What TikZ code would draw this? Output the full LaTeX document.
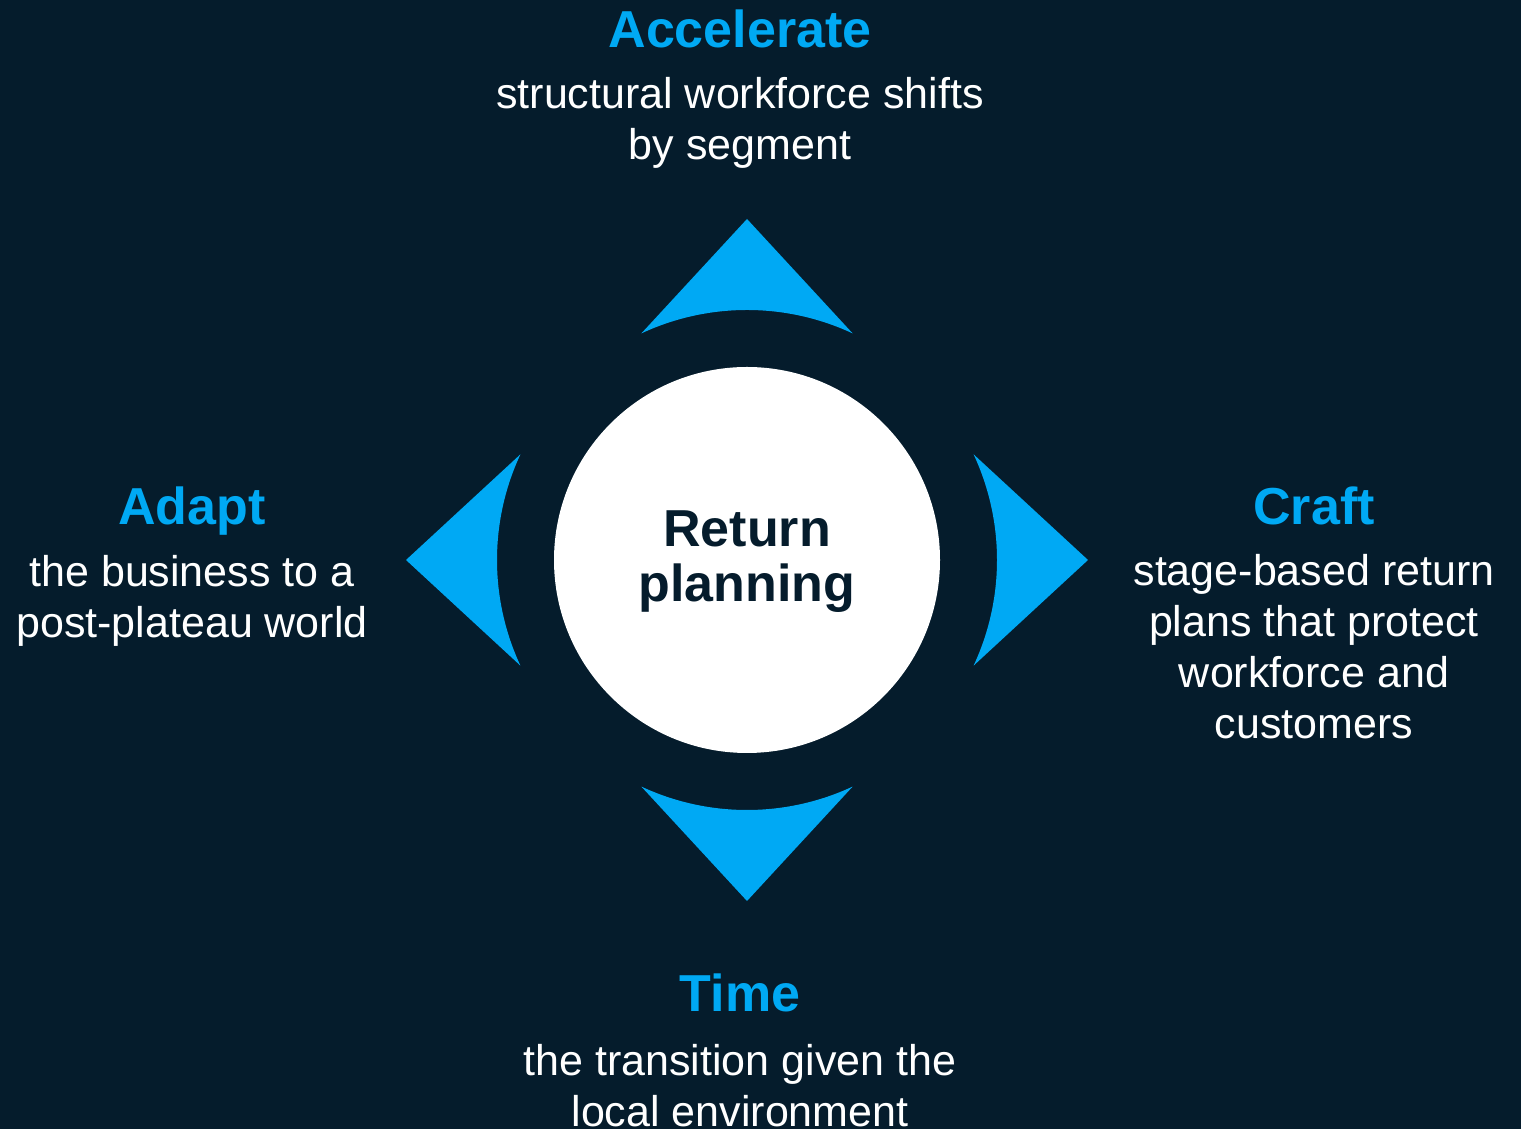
\documentclass[tikz,border=0pt]{standalone}
\usepackage{fontspec}
\setmainfont{Liberation Sans}
\usetikzlibrary{positioning}

\definecolor{navy}{HTML}{051C2C}
\definecolor{skyblue}{HTML}{00A9F4}

\tikzset{
	head/.style={text=skyblue, font=\fontsize{52}{60}\selectfont\bfseries, inner sep=0pt, anchor=base},
	body/.style={text=white, font=\fontsize{43}{51}\selectfont, align=center, inner sep=0pt, anchor=base},
	pointer/.style={fill=skyblue}
}

\begin{document}
\begin{tikzpicture}[x=1pt, y=1pt]

	\fill[navy] (0,0) rectangle (1521,1129);
	\useasboundingbox (0,0) rectangle (1521,1129);

	\node[circle, fill=white, minimum size=386pt, inner sep=0pt] (hub) at (747,569) {};
	\node[text=navy, font=\fontsize{52}{55}\selectfont\bfseries, align=center, inner sep=0pt, anchor=base] (hubtext) at (747,527) {Return\\planning};

	\begin{scope}[shift={(hub.center)}]
		\foreach \dir/\name in {90/up, 0/right, 180/left, 270/down}
			\fill[pointer] (\dir:341pt) -- (\dir-25:250pt) arc[start angle=\dir-25, end angle=\dir+25, radius=250pt] -- cycle;
	\end{scope}

	\node[head] (acc) at (740,1081) {Accelerate};
	\node[body] (accbody) at (740,969) {structural workforce shifts\\by segment};

	\node[head] (adapt) at (192,604) {Adapt};
	\node[body] (adaptbody) at (192,491) {the business to a\\post-plateau world};

	\node[head] (craft) at (1314,604) {Craft};
	\node[body] (craftbody) at (1314,390) {stage-based return\\plans that protect\\workforce and\\customers};

	\node[head] (time) at (740,117) {Time};
	\node[body] (timebody) at (740,2) {the transition given the\\local environment};

\end{tikzpicture}
\end{document}
